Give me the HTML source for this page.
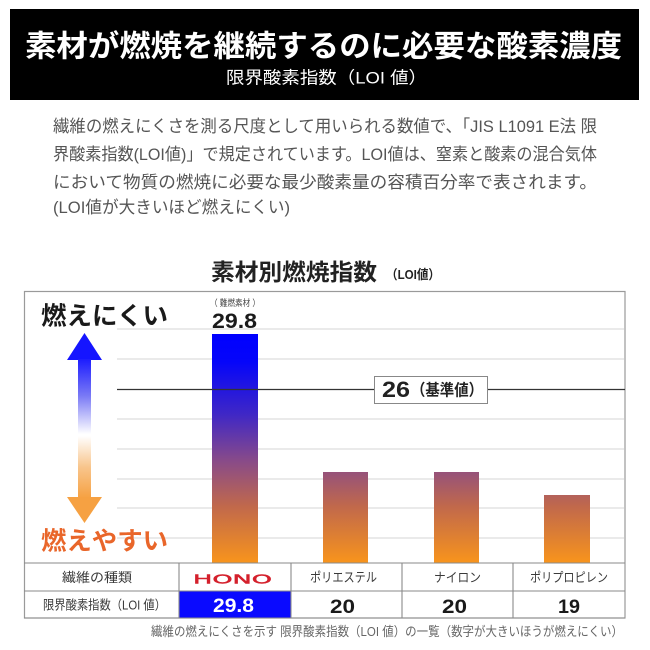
<!DOCTYPE html>
<html>
<head>
<meta charset="utf-8">
<style>
  html,body{margin:0;padding:0;background:#fff;}
  svg{display:block;}
  text{font-family:"Liberation Sans","Noto Sans CJK JP",sans-serif;}
</style>
</head>
<body>
<svg width="650" height="650" viewBox="0 0 650 650" xmlns="http://www.w3.org/2000/svg">
  <defs>
    <linearGradient id="barg" gradientUnits="userSpaceOnUse" x1="0" y1="334" x2="0" y2="563">
      <stop offset="0" stop-color="#0000ff"/>
      <stop offset="0.12" stop-color="#0505fa"/>
      <stop offset="0.35" stop-color="#3f27c6"/>
      <stop offset="0.55" stop-color="#874a8a"/>
      <stop offset="0.75" stop-color="#c0684c"/>
      <stop offset="1" stop-color="#f8941c"/>
    </linearGradient>
    <linearGradient id="blueshaft" gradientUnits="userSpaceOnUse" x1="0" y1="358" x2="0" y2="434">
      <stop offset="0" stop-color="#1a1aff"/>
      <stop offset="0.5" stop-color="#7a7af5"/>
      <stop offset="1" stop-color="#ffffff"/>
    </linearGradient>
    <linearGradient id="orangeshaft" gradientUnits="userSpaceOnUse" x1="0" y1="436" x2="0" y2="498">
      <stop offset="0" stop-color="#ffffff"/>
      <stop offset="0.5" stop-color="#f8c58c"/>
      <stop offset="1" stop-color="#f6a142"/>
    </linearGradient>
  </defs>

  <rect x="0" y="0" width="650" height="650" fill="#fff"/>

  <!-- Header -->
  <rect x="10" y="9" width="629" height="91" fill="#000"/>
  <text x="25" y="56.5" font-size="30" font-weight="bold" fill="#fff" textLength="597" lengthAdjust="spacingAndGlyphs">素材が燃焼を継続するのに必要な酸素濃度</text>
  <text x="226" y="83.5" font-size="17" fill="#fff" textLength="201" lengthAdjust="spacingAndGlyphs">限界酸素指数（LOI 値）</text>

  <!-- Paragraph -->
  <g font-size="17" fill="#555">
    <text x="53" y="132" textLength="544" lengthAdjust="spacingAndGlyphs">繊維の燃えにくさを測る尺度として用いられる数値で、「JIS L1091 E法 限</text>
    <text x="53" y="160" textLength="544" lengthAdjust="spacingAndGlyphs">界酸素指数(LOI値)」で規定されています。LOI値は、窒素と酸素の混合気体</text>
    <text x="53" y="188" textLength="544" lengthAdjust="spacingAndGlyphs">において物質の燃焼に必要な最少酸素量の容積百分率で表されます。</text>
    <text x="53" y="213" textLength="237" lengthAdjust="spacingAndGlyphs">(LOI値が大きいほど燃えにくい)</text>
  </g>

  <!-- Chart title -->
  <text x="211" y="280" font-size="23" font-weight="bold" fill="#222" textLength="166" lengthAdjust="spacingAndGlyphs">素材別燃焼指数</text>
  <text x="386" y="279" font-size="13" font-weight="bold" fill="#222" textLength="54" lengthAdjust="spacingAndGlyphs">（LOI値）</text>

  <!-- Chart frame -->
  <rect x="24.5" y="291.5" width="600.5" height="326.5" fill="none" stroke="#9a9a9a" stroke-width="1.2"/>

  <!-- Gridlines -->
  <g stroke="#dedede" stroke-width="1.2">
    <line x1="117" y1="329" x2="624" y2="329"/>
    <line x1="117" y1="359" x2="624" y2="359"/>
    <line x1="117" y1="419" x2="624" y2="419"/>
    <line x1="117" y1="449" x2="624" y2="449"/>
    <line x1="117" y1="479" x2="624" y2="479"/>
    <line x1="117" y1="508" x2="624" y2="508"/>
    <line x1="117" y1="538" x2="624" y2="538"/>
  </g>

  <!-- Bars -->
  <rect x="212" y="334" width="46" height="229" fill="url(#barg)"/>
  <rect x="323" y="472" width="45" height="91" fill="url(#barg)"/>
  <rect x="434" y="472" width="45" height="91" fill="url(#barg)"/>
  <rect x="544" y="495" width="46" height="68" fill="url(#barg)"/>

  <!-- Reference line -->
  <line x1="117" y1="389.5" x2="625" y2="389.5" stroke="#333" stroke-width="1.3"/>
  <rect x="374.5" y="376.5" width="113" height="27" fill="#fff" stroke="#888" stroke-width="1"/>
  <text x="382" y="397" font-size="22" font-weight="bold" fill="#222" textLength="28" lengthAdjust="spacingAndGlyphs">26</text>
  <text x="411" y="395.5" font-size="16" font-weight="bold" fill="#222" textLength="72" lengthAdjust="spacingAndGlyphs">（基準値）</text>

  <!-- Bar label -->
  <text x="210" y="306" font-size="9" fill="#444" textLength="50" lengthAdjust="spacingAndGlyphs">（ 難燃素材 ）</text>
  <text x="212" y="328" font-size="21" font-weight="bold" fill="#1a1a1a" textLength="45" lengthAdjust="spacingAndGlyphs">29.8</text>

  <!-- Left labels -->
  <text x="41" y="324.5" font-size="25" font-weight="bold" fill="#1a1a1a" textLength="127" lengthAdjust="spacingAndGlyphs">燃えにくい</text>
  <text x="41" y="549.5" font-size="25" font-weight="bold" fill="#e9662a" textLength="127" lengthAdjust="spacingAndGlyphs">燃えやすい</text>

  <!-- Arrow -->
  <polygon points="84.5,333 67,360 102,360" fill="#1515ff"/>
  <rect x="78" y="359" width="13" height="75" fill="url(#blueshaft)"/>
  <rect x="78" y="436" width="13" height="62" fill="url(#orangeshaft)"/>
  <polygon points="67,497 102,497 84.5,523" fill="#f6a142"/>

  <!-- Table -->
  <rect x="179" y="591" width="112" height="27" fill="#0a0aff"/>
  <g stroke="#8a8a8a" stroke-width="1.1">
    <line x1="24" y1="563" x2="625" y2="563"/>
    <line x1="24" y1="591" x2="625" y2="591"/>
    <line x1="24" y1="618" x2="625" y2="618"/>
    <line x1="179" y1="563" x2="179" y2="618"/>
    <line x1="291" y1="563" x2="291" y2="618"/>
    <line x1="402" y1="563" x2="402" y2="618"/>
    <line x1="513" y1="563" x2="513" y2="618"/>
  </g>

  <g font-size="13" fill="#3a3a3a">
    <text x="62" y="582" textLength="70" lengthAdjust="spacingAndGlyphs">繊維の種類</text>
    <text x="310" y="582" textLength="67" lengthAdjust="spacingAndGlyphs">ポリエステル</text>
    <text x="434" y="582" textLength="47" lengthAdjust="spacingAndGlyphs">ナイロン</text>
    <text x="530" y="582" textLength="78" lengthAdjust="spacingAndGlyphs">ポリプロピレン</text>
    <text x="43" y="609.5" textLength="123" lengthAdjust="spacingAndGlyphs">限界酸素指数（LOI 値）</text>
  </g>
  <text x="193" y="583.5" font-size="12.5" fill="#d4202c" stroke="#d4202c" stroke-width="0.4" style="font-family:'DejaVu Sans','Liberation Sans',sans-serif" textLength="79" lengthAdjust="spacingAndGlyphs">HONO</text>

  <g font-size="19.5" font-weight="bold">
    <text x="213" y="612" fill="#fff" textLength="41" lengthAdjust="spacingAndGlyphs">29.8</text>
    <text x="330" y="613" fill="#1a1a1a" textLength="25" lengthAdjust="spacingAndGlyphs">20</text>
    <text x="442" y="613" fill="#1a1a1a" textLength="25" lengthAdjust="spacingAndGlyphs">20</text>
    <text x="558" y="613" fill="#1a1a1a" textLength="22" lengthAdjust="spacingAndGlyphs">19</text>
  </g>

  <!-- Caption -->
  <text x="151" y="636" font-size="13" fill="#666" textLength="472" lengthAdjust="spacingAndGlyphs">繊維の燃えにくさを示す 限界酸素指数（LOI 値）の一覧（数字が大きいほうが燃えにくい）</text>
</svg>
</body>
</html>
